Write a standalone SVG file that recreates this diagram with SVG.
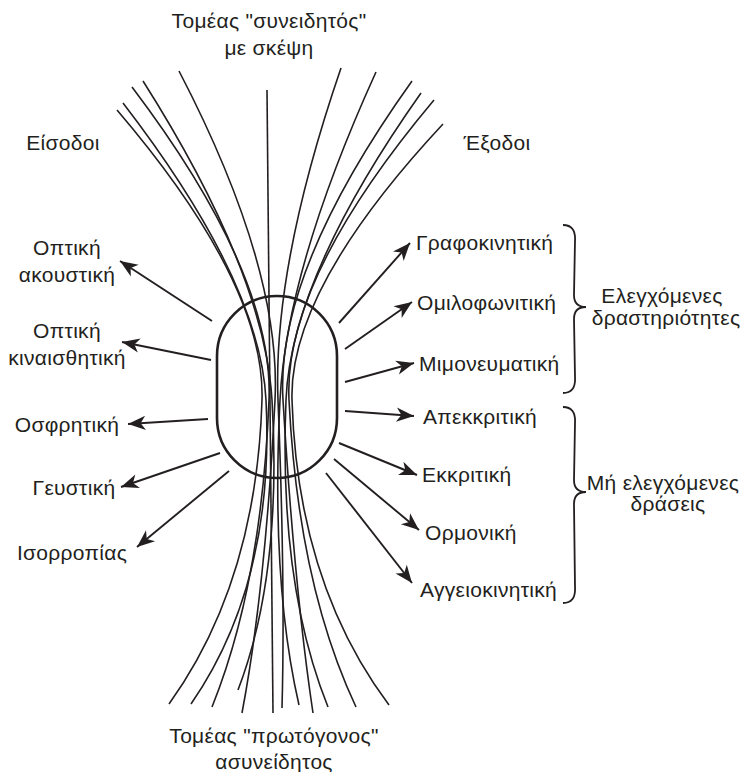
<svg xmlns="http://www.w3.org/2000/svg" width="744" height="772" viewBox="0 0 744 772">
<style>
text{font-family:"Liberation Sans",Arial,sans-serif;font-size:21px;letter-spacing:0.3px;fill:#231f20}
.m{text-anchor:middle}
.s{text-anchor:start}
.fib{fill:none;stroke:#231f20;stroke-width:1.6}
.arr{fill:none;stroke:#231f20;stroke-width:1.9;marker-end:url(#ah)}
.br{fill:none;stroke:#231f20;stroke-width:1.8}
</style>
<defs>
<marker id="ah" markerUnits="userSpaceOnUse" markerWidth="22" markerHeight="20" viewBox="-18 -9 20 18" refX="0" refY="0" orient="auto">
<path d="M0,0 L-16,-6.5 L-11.5,0 L-16,6.5 Z" fill="#231f20"/>
</marker>
</defs>
<rect width="744" height="772" fill="#fff"/>
<g id="fibers">
<path class="fib" d="M117,110 Q265.5,284 262,400 Q256.5,582.4 169,704"/>
<path class="fib" d="M123,103 Q260.1,281.2 266,400 Q275.1,582.4 191,704"/>
<path class="fib" d="M132,87 Q274,274.8 269,400 Q261.6,584.2 212,707"/>
<path class="fib" d="M143,81 Q264.3,272.4 272,400 Q282.4,574 238,690"/>
<path class="fib" d="M179,71 Q281.6,268.4 275,400 Q265.6,587.8 242,713"/>
<path class="fib" d="M267,90 Q270,400 273,713"/>
<path class="fib" d="M341,68 Q272.7,267.2 278,400 Q285.4,584.8 282,708"/>
<path class="fib" d="M376,72 Q286.6,268.8 280,400 Q270.8,583 299,705"/>
<path class="fib" d="M412,81 Q275.3,272.4 283,400 Q294.3,587.8 313,713"/>
<path class="fib" d="M421,93 Q290.9,277.2 286,400 Q278.6,584.2 328,707"/>
<path class="fib" d="M434,100 Q283,280 289,400 Q298.2,584.2 356,707"/>
<path class="fib" d="M443,124 Q288.7,289.6 292,400 Q297.5,583 389,705"/>
</g>
<g id="capsule">
<rect x="217" y="296" width="120" height="182" rx="60" ry="60" fill="none" stroke="#231f20" stroke-width="2.6"/>
</g>
<g id="connectors">
<line class="arr" x1="212" y1="321" x2="120" y2="261"/>
<line class="arr" x1="211" y1="360" x2="122" y2="342"/>
<line class="arr" x1="208" y1="419" x2="128" y2="424"/>
<line class="arr" x1="220" y1="453" x2="121" y2="487"/>
<line class="arr" x1="229" y1="471" x2="137" y2="547"/>
<line class="arr" x1="339" y1="323" x2="410" y2="243"/>
<line class="arr" x1="345" y1="349" x2="412" y2="302"/>
<line class="arr" x1="345" y1="382" x2="414" y2="363"/>
<line class="arr" x1="345" y1="411" x2="414" y2="416"/>
<line class="arr" x1="339" y1="443" x2="417" y2="475"/>
<line class="arr" x1="334" y1="459" x2="419" y2="530"/>
<line class="arr" x1="326" y1="473" x2="412" y2="583"/>
</g>
<g id="top-label"><text class="m" x="269" y="28">Τομέας "συνειδητός"</text><text class="m" x="269" y="55">με σκέψη</text></g>
<g id="bottom-label"><text class="m" x="274" y="743">Τομέας "πρωτόγονος"</text><text class="m" x="274" y="769">ασυνείδητος</text></g>
<g id="inputs"><text class="m" x="63" y="150">Είσοδοι</text></g>
<g id="outputs"><text class="m" x="497" y="150">Έξοδοι</text></g>
<g id="in-optic-acoustic"><text class="m" x="67" y="255">Οπτική</text><text class="m" x="67" y="282">ακουστική</text></g>
<g id="in-optic-kinesthetic"><text class="m" x="67" y="338">Οπτική</text><text class="m" x="67" y="365">κιναισθητική</text></g>
<g id="in-olfactory"><text class="m" x="67" y="432">Οσφρητική</text></g>
<g id="in-gustatory"><text class="m" x="74" y="495">Γευστική</text></g>
<g id="in-balance"><text class="m" x="72" y="560">Ισορροπίας</text></g>
<g id="out-1"><text class="s" x="416" y="250">Γραφοκινητική</text></g>
<g id="out-2"><text class="s" x="417" y="310">Ομιλοφωνιτική</text></g>
<g id="out-3"><text class="s" x="419" y="371">Μιμονευματική</text></g>
<g id="out-4"><text class="s" x="423" y="424">Απεκκριτική</text></g>
<g id="out-5"><text class="s" x="422" y="482">Εκκριτική</text></g>
<g id="out-6"><text class="s" x="425" y="540">Ορμονική</text></g>
<g id="out-7"><text class="s" x="420" y="597">Αγγειοκινητική</text></g>
<g id="group-controlled">
<path class="br" d="M563,225 Q576,225 575,241 L574,295 Q574,307 586,307 Q574,307 574,319 L575,377 Q576,393 563,393"/>
<text class="m" x="662" y="303">Ελεγχόμενες</text><text class="m" x="666" y="325">δραστηριότητες</text>
</g>
<g id="group-uncontrolled">
<path class="br" d="M563,407 Q576,407 575,423 L574,480 Q574,492 586,492 Q574,492 574,504 L575,587 Q576,603 563,603"/>
<text class="m" x="663" y="490">Μή ελεγχόμενες</text><text class="m" x="668" y="511">δράσεις</text>
</g>
</svg>
